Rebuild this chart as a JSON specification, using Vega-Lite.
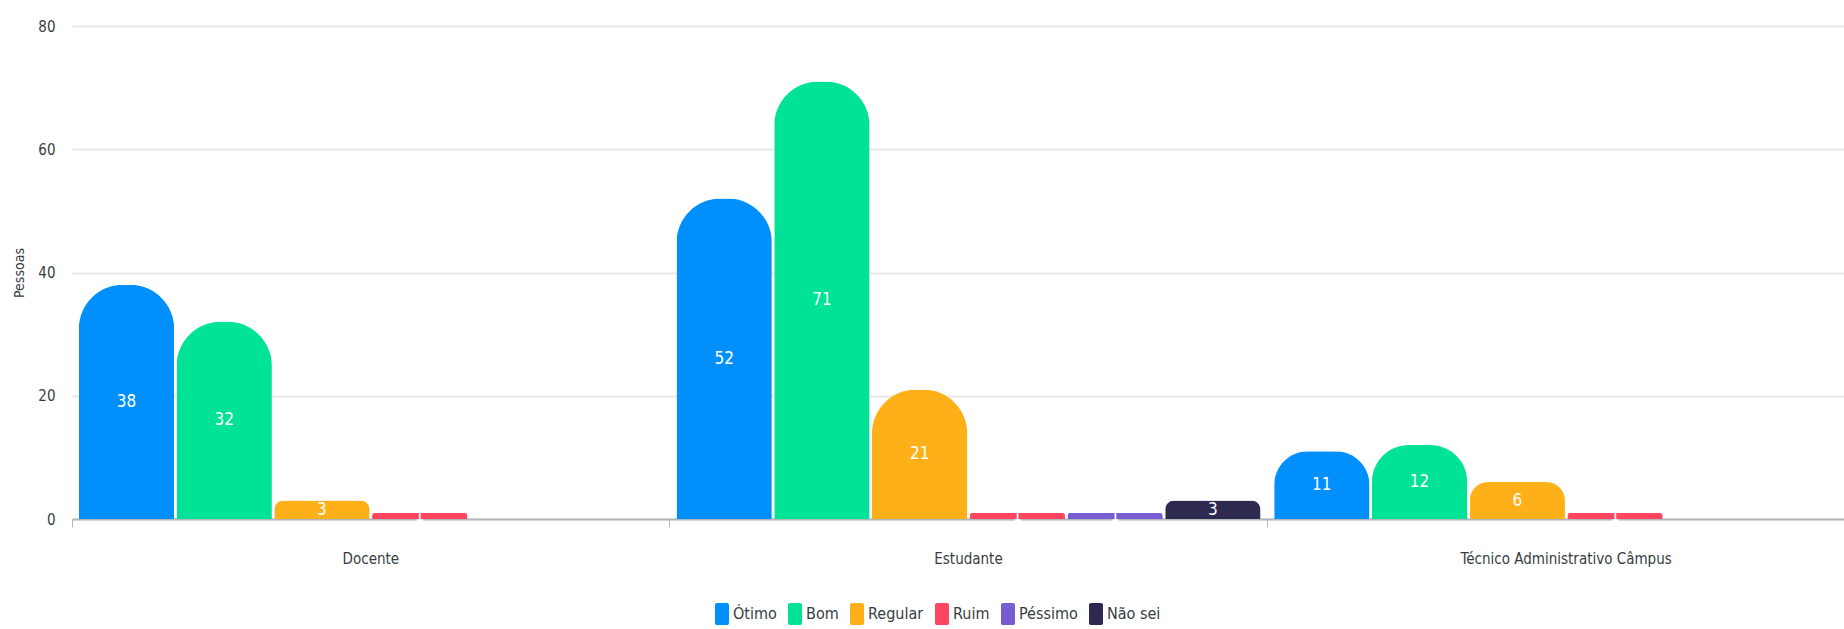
{
  "$schema": "https://vega.github.io/schema/vega-lite/v6.json",
  "autosize": {"type": "none"},
  "width": 1793,
  "height": 493,
  "padding": {"left": 72, "top": 26, "right": 0, "bottom": 110},
  "background": "white",
  "config": {
    "view": {"stroke": null},
    "font": "DejaVu Sans Condensed, Roboto, sans-serif"
  },
  "data": {
    "values": [
      {"grupo": "Docente", "avaliacao": "Ótimo", "pessoas": 38},
      {"grupo": "Docente", "avaliacao": "Bom", "pessoas": 32},
      {"grupo": "Docente", "avaliacao": "Regular", "pessoas": 3},
      {"grupo": "Docente", "avaliacao": "Ruim", "pessoas": 1},
      {"grupo": "Docente", "avaliacao": "Péssimo", "pessoas": 0},
      {"grupo": "Docente", "avaliacao": "Não sei", "pessoas": 0},
      {"grupo": "Estudante", "avaliacao": "Ótimo", "pessoas": 52},
      {"grupo": "Estudante", "avaliacao": "Bom", "pessoas": 71},
      {"grupo": "Estudante", "avaliacao": "Regular", "pessoas": 21},
      {"grupo": "Estudante", "avaliacao": "Ruim", "pessoas": 1},
      {"grupo": "Estudante", "avaliacao": "Péssimo", "pessoas": 1},
      {"grupo": "Estudante", "avaliacao": "Não sei", "pessoas": 3},
      {"grupo": "Técnico Administrativo Câmpus", "avaliacao": "Ótimo", "pessoas": 11},
      {"grupo": "Técnico Administrativo Câmpus", "avaliacao": "Bom", "pessoas": 12},
      {"grupo": "Técnico Administrativo Câmpus", "avaliacao": "Regular", "pessoas": 6},
      {"grupo": "Técnico Administrativo Câmpus", "avaliacao": "Ruim", "pessoas": 1},
      {"grupo": "Técnico Administrativo Câmpus", "avaliacao": "Péssimo", "pessoas": 0},
      {"grupo": "Técnico Administrativo Câmpus", "avaliacao": "Não sei", "pessoas": 0}
    ]
  },
  "encoding": {
    "x": {
      "field": "grupo",
      "type": "nominal",
      "scale": {"paddingInner": 0, "paddingOuter": 0},
      "axis": {
        "title": null,
        "labelAngle": 0,
        "bandPosition": 0,
        "labelFontSize": 15,
        "labelLimit": 0,
        "labelColor": "#373d3f",
        "labelPadding": 24,
        "tickSize": 8,
        "tickColor": "#b0b8bc",
        "domainColor": "#b0b8bc",
        "domainWidth": 2,
        "grid": false
      }
    },
    "xOffset": {
      "field": "avaliacao",
      "type": "nominal",
      "sort": ["Ótimo", "Bom", "Regular", "Ruim", "Péssimo", "Não sei"],
      "scale": {"paddingInner": 0.025, "paddingOuter": 0.07}
    }
  },
  "layer": [
    {
      "mark": {"type": "bar", "cornerRadiusTopLeft": 44, "cornerRadiusTopRight": 44},
      "encoding": {
        "y": {
          "field": "pessoas",
          "type": "quantitative",
          "scale": {"domain": [0, 80]},
          "axis": {
            "title": "Pessoas",
            "titleFontSize": 14,
            "titleFontWeight": "normal",
            "titleColor": "#373d3f",
            "titlePadding": 11,
            "values": [0, 20, 40, 60, 80],
            "labelFontSize": 15,
            "labelColor": "#373d3f",
            "labelPadding": 17,
            "domain": false,
            "ticks": false,
            "gridColor": "#e8e8e8",
            "gridWidth": 2
          }
        },
        "color": {
          "field": "avaliacao",
          "type": "nominal",
          "scale": {
            "domain": ["Ótimo", "Bom", "Regular", "Ruim", "Péssimo", "Não sei"],
            "range": ["#008FFB", "#00E396", "#FEB019", "#FF4560", "#775DD0", "#2E294E"]
          },
          "legend": {
            "title": null,
            "orient": "none",
            "direction": "horizontal",
            "legendX": 642,
            "legendY": 580,
            "symbolType": "M-0.7,-1.57 H0.7 A0.3,0.3 0 0 1 1,-1.27 V1.27 A0.3,0.3 0 0 1 0.7,1.57 H-0.7 A0.3,0.3 0 0 1 -1,1.27 V-1.27 A0.3,0.3 0 0 1 -0.7,-1.57 Z",
            "symbolSize": 196,
            "symbolStrokeWidth": 0,
            "symbolOpacity": 1,
            "labelFontSize": 16,
            "labelColor": "#373d3f",
            "labelOffset": 3,
            "columnPadding": 10
          }
        }
      }
    },
    {
      "transform": [
        {"filter": "datum.pessoas > 0"},
        {"calculate": "datum.pessoas / 2", "as": "meio"}
      ],
      "mark": {"type": "text", "color": "white", "fontSize": 17, "baseline": "middle"},
      "encoding": {
        "y": {"field": "meio", "type": "quantitative"},
        "text": {"field": "pessoas", "type": "quantitative"}
      }
    }
  ]
}
